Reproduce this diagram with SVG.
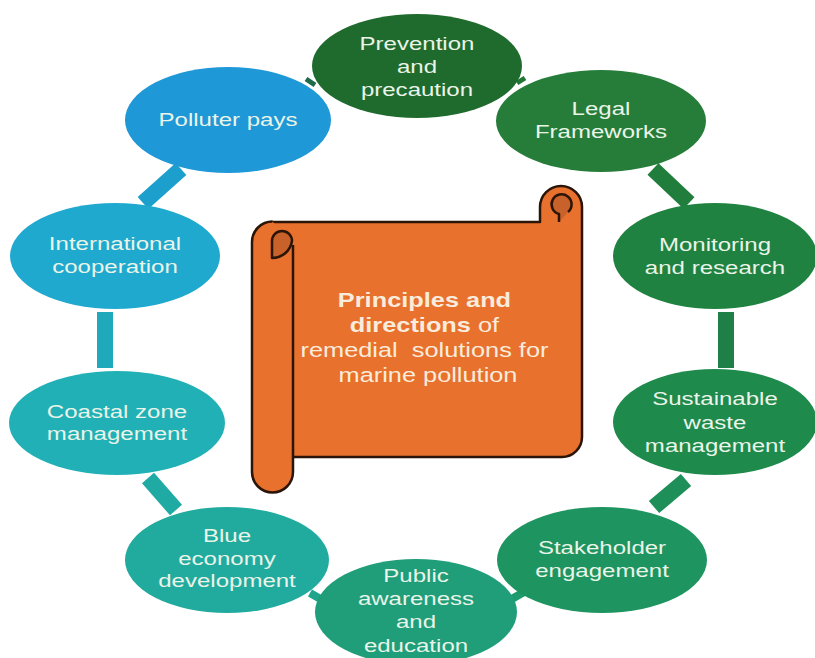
<svg xmlns="http://www.w3.org/2000/svg" width="815" height="658" viewBox="0 0 815 658">
  <style>
    .lbl { font-family: "Liberation Sans", Arial, sans-serif; font-size: 18.5px; fill: #eaf4e8; text-anchor: middle; }
    .title { font-family: "Liberation Sans", Arial, sans-serif; font-size: 19.5px; fill: #f9ecdc; text-anchor: middle; }
    .bar { fill: none; stroke-width: 16; stroke-linecap: butt; }
    .scroll { fill: #e8712e; stroke: #2a1508; stroke-width: 2.5; stroke-linejoin: round; }
    .curl { fill: #c9612a; stroke: #2a1508; stroke-width: 2.5; stroke-linejoin: round; }
  </style>

  <rect width="815" height="658" fill="#ffffff"/>

  <!-- ring of short links between neighbouring ellipses -->
  <g id="connectors">
    <line class="bar" x1="181" y1="169" x2="143" y2="203" stroke="#1d9fcd"/>
    <line class="bar" x1="105" y1="312" x2="105" y2="368" stroke="#1eaaba"/>
    <line class="bar" x1="148" y1="478" x2="176" y2="510" stroke="#1faaa3"/>
    <line class="bar" x1="310" y1="593" x2="324" y2="601" stroke="#20a48c" style="stroke-width:8"/>
    <line class="bar" x1="510" y1="600" x2="524" y2="592" stroke="#1e9a6c" style="stroke-width:8"/>
    <line class="bar" x1="686" y1="480" x2="654" y2="507" stroke="#1e8f58"/>
    <line class="bar" x1="726" y1="312" x2="726" y2="368" stroke="#1e8047"/>
    <line class="bar" x1="653" y1="169" x2="689" y2="203" stroke="#217d3c"/>
    <line class="bar" x1="517" y1="83" x2="525" y2="78" stroke="#237536" style="stroke-width:5"/>
    <line class="bar" x1="306" y1="79" x2="315" y2="85" stroke="#1f6a4a" style="stroke-width:5"/>
  </g>

  <!-- central scroll -->
  <g id="centre">
    <path class="scroll" d="M 272 222 H 540 V 207 A 21 21 0 0 1 582 207 V 437 A 20 20 0 0 1 562 457 H 272 Z"/>
    <path class="curl" d="M 559 222 V 214 A 10 10 0 1 1 568 212"/>
    <path class="scroll" d="M 293 245 V 472 A 20.5 20.5 0 0 1 252 472 V 242 A 20.5 20.5 0 0 1 272.5 221.5"/>
    <path class="curl" d="M 272 258 V 241 A 10 10 0 0 1 292 241 A 20 20 0 0 1 272 258 Z"/>
    <text class="title" transform="translate(428 0) scale(1.3 1)">
      <tspan x="0" y="307" font-weight="bold">Principles and</tspan>
      <tspan x="0" y="332"><tspan font-weight="bold">directions</tspan> of</tspan>
      <tspan x="0" y="357">remedial&#160; solutions for</tspan>
      <tspan x="0" y="382">marine pollution</tspan>
    </text>
  </g>

  <g id="n-prevention" transform="translate(417 66)">
    <ellipse rx="105" ry="52" fill="#1f6b2d"/>
    <text class="lbl" transform="scale(1.3 1)"><tspan x="0" y="-16">Prevention</tspan><tspan x="0" y="7">and</tspan><tspan x="0" y="30">precaution</tspan></text>
  </g>

  <g id="n-legal" transform="translate(601 121)">
    <ellipse rx="105" ry="51" fill="#267d39"/>
    <text class="lbl" transform="scale(1.3 1)"><tspan x="0" y="-6">Legal</tspan><tspan x="0" y="17">Frameworks</tspan></text>
  </g>

  <g id="n-monitoring" transform="translate(715 256)">
    <ellipse rx="102" ry="53" fill="#1f8240"/>
    <text class="lbl" transform="scale(1.3 1)"><tspan x="0" y="-5">Monitoring</tspan><tspan x="0" y="18">and research</tspan></text>
  </g>

  <g id="n-waste" transform="translate(715 422)">
    <ellipse rx="102" ry="53" fill="#1e8a4c"/>
    <text class="lbl" transform="scale(1.3 1)"><tspan x="0" y="-17">Sustainable</tspan><tspan x="0" y="7">waste</tspan><tspan x="0" y="30">management</tspan></text>
  </g>

  <g id="n-stakeholder" transform="translate(602 560)">
    <ellipse rx="105" ry="53" fill="#1e9560"/>
    <text class="lbl" transform="scale(1.3 1)"><tspan x="0" y="-6">Stakeholder</tspan><tspan x="0" y="17">engagement</tspan></text>
  </g>

  <g id="n-public" transform="translate(416 612)">
    <ellipse rx="101" ry="53" fill="#1f9e79"/>
    <text class="lbl" transform="scale(1.3 1)"><tspan x="0" y="-30">Public</tspan><tspan x="0" y="-7">awareness</tspan><tspan x="0" y="16">and</tspan><tspan x="0" y="40">education</tspan></text>
  </g>

  <g id="n-blue" transform="translate(227 560)">
    <ellipse rx="102" ry="53" fill="#21ab9f"/>
    <text class="lbl" transform="scale(1.3 1)"><tspan x="0" y="-18">Blue</tspan><tspan x="0" y="5">economy</tspan><tspan x="0" y="27">development</tspan></text>
  </g>

  <g id="n-coastal" transform="translate(117 423)">
    <ellipse rx="108" ry="52" fill="#20b0b5"/>
    <text class="lbl" transform="scale(1.3 1)"><tspan x="0" y="-5">Coastal zone</tspan><tspan x="0" y="17">management</tspan></text>
  </g>

  <g id="n-international" transform="translate(115 256)">
    <ellipse rx="105" ry="53" fill="#1fa9ce"/>
    <text class="lbl" transform="scale(1.3 1)"><tspan x="0" y="-6">International</tspan><tspan x="0" y="17">cooperation</tspan></text>
  </g>

  <g id="n-polluter" transform="translate(228 120)">
    <ellipse rx="103" ry="53" fill="#1e98d6"/>
    <text class="lbl" transform="scale(1.3 1)"><tspan x="0" y="6">Polluter pays</tspan></text>
  </g>
</svg>
